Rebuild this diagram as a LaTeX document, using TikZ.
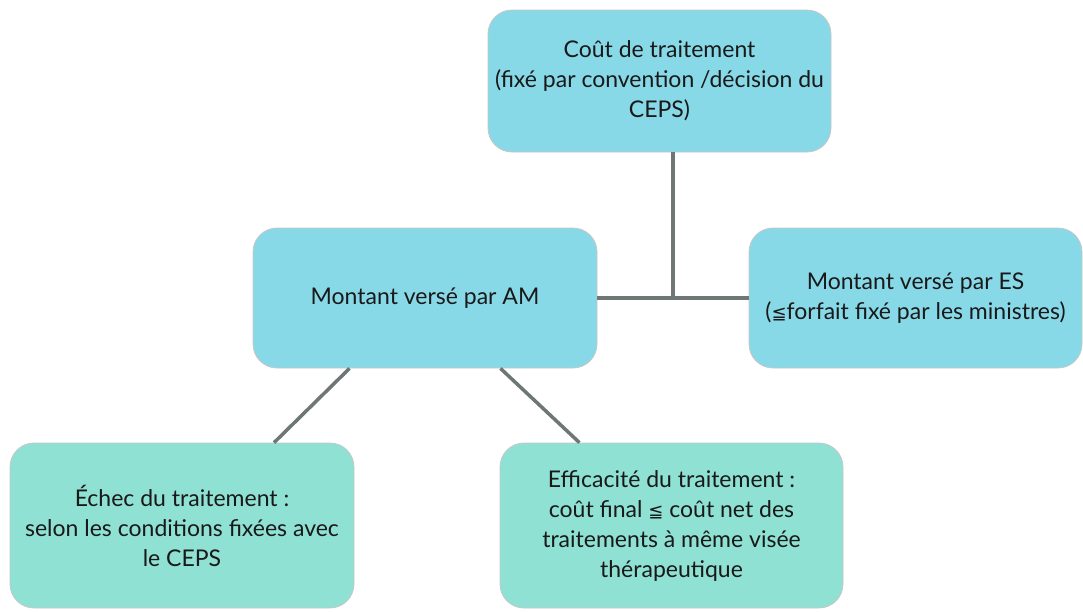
\documentclass[tikz,border=0pt]{standalone}
\usepackage{fontspec}
\setmainfont{Lato}
\newfontfamily\symfont{DejaVu Sans}
\newcommand{\leqq}{{\symfont\fontsize{18}{30}\selectfont\char"2266}}
\definecolor{cyanbox}{HTML}{88D9E7}
\definecolor{greenbox}{HTML}{8FE1D3}
\definecolor{linkgray}{HTML}{6E7676}
\begin{document}
\begin{tikzpicture}[x=1pt, y=-1pt,
    block/.style={draw=black!22, line width=0.8pt, fill=#1, rounded corners=24pt, align=center, font=\fontsize{23}{30}\selectfont, text=black!90, inner sep=0pt},
    link/.style={draw=linkgray, line width=3.5pt}
]
    \useasboundingbox (0,0) rectangle (1083,611);
    \node[block=cyanbox, minimum width=343pt, minimum height=142pt] (cout) at (659.5,81) {Coût de traitement\\(fixé par convention /décision du\\CEPS)};
    \node[block=cyanbox, minimum width=344pt, minimum height=140pt] (am) at (425,298) {Montant versé par AM};
    \node[block=cyanbox, minimum width=333pt, minimum height=140pt] (es) at (915.5,298) {Montant versé par ES\\(\leqq forfait fixé par les ministres)};
    \node[block=greenbox, minimum width=344pt, minimum height=165pt] (echec) at (182,525.5) {Échec du traitement :\\selon les conditions fixées avec\\le CEPS};
    \node[block=greenbox, minimum width=343pt, minimum height=165pt] (eff) at (671.5,525.5) {Efficacité du traitement :\\coût final \leqq{} coût net des\\traitements à même visée\\thérapeutique};

    \coordinate (jn) at (673,297);
    \draw[link] (cout.south -| jn) -- (jn);
    \draw[link] (am.east) -- (es.west);
    \draw[link] (am.223) -- (echec.42);
    \draw[link] (am.317) -- (eff.138);
\end{tikzpicture}
\end{document}
